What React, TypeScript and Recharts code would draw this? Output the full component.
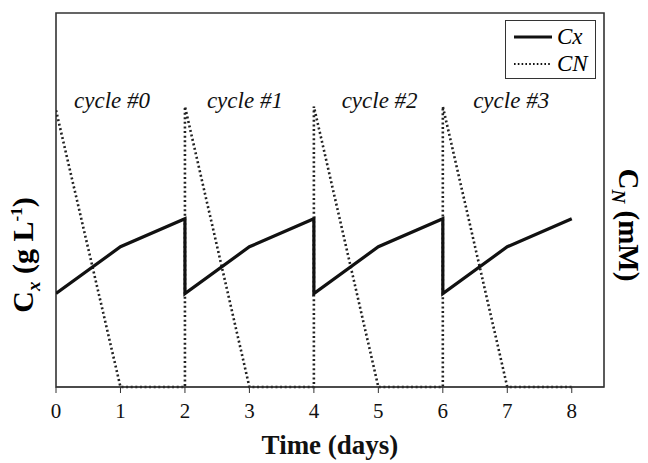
import {
  ComposedChart,
  Line,
  ReferenceArea,
  ReferenceDot,
  XAxis,
  YAxis,
} from "recharts";

// biomass Cx (arbitrary units on a 0-10 scale, axis has no ticks)
const cxTime = [0, 1, 2, 2, 3, 4, 4, 5, 6, 6, 7, 8];
const cxValues = [2.5, 3.75, 4.5, 2.5, 3.75, 4.5, 2.5, 3.75, 4.5, 2.5, 3.75, 4.5];

// nitrogen CN, refilled at the start of every cycle
const cnTime = [0, 1, 2, 2, 3, 4, 4, 5, 6, 6, 7, 8];
const cnValues = [7.4, 0, 0, 7.5, 0, 0, 7.5, 0, 0, 7.5, 0, 0];

const dayTicks = [0, 1, 2, 3, 4, 5, 6, 7, 8];
const cycleNames = ["cycle #0", "cycle #1", "cycle #2", "cycle #3"];
const cycleCenters = [0.87, 2.93, 5.02, 7.06];

const cxData = cxTime.map((t, i) => ({ t, cx: cxValues[i] }));
const cnData = cnTime.map((t, i) => ({ t, cn: cnValues[i] }));

const serif = "'Liberation Serif', 'Times New Roman', serif";

function LegendBox() {
  const row = (dash: boolean, name: string) => (
    <div style={{ display: "flex", alignItems: "center", height: 27 }}>
      <svg width={40} height={10}>
        <line
          x1={0}
          y1={5}
          x2={38}
          y2={5}
          stroke="#111"
          strokeWidth={dash ? 1.8 : 3.2}
          strokeDasharray={dash ? "1.6 2.2" : undefined}
        />
      </svg>
      <span style={{ fontStyle: "italic", fontSize: 23, marginLeft: 3 }}>{name}</span>
    </div>
  );
  return (
    <div
      style={{
        position: "absolute",
        left: 505,
        top: 20,
        boxSizing: "border-box",
        border: "1.3px solid #333",
        width: 91,
        height: 59,
        padding: "2px 0 0 8px",
        fontFamily: serif,
        background: "#fff",
        lineHeight: 1,
      }}
    >
      {row(false, "Cx")}
      {row(true, "CN")}
    </div>
  );
}

export default function App() {
  return (
    <div style={{ position: "absolute", left: 0, top: 0, width: 648, height: 463, background: "#fff" }}>
      <ComposedChart
        width={648}
        height={463}
        margin={{ top: 13, right: 44, bottom: 46, left: 56 }}
      >
        <XAxis
          dataKey="t"
          type="number"
          domain={[0, 8.5]}
          ticks={dayTicks}
          allowDataOverflow
          height={30}
          tickSize={6}
          tickMargin={10}
          stroke="#333"
          tick={{ fill: "#111", fontFamily: serif, fontSize: 21 }}
          label={{
            value: "Time (days)",
            position: "bottom",
            offset: 18,
            style: { fill: "#111", fontFamily: serif, fontSize: 27, fontWeight: 700 },
          }}
        />
        <YAxis yAxisId="cx" domain={[0, 10]} hide />
        <YAxis yAxisId="cn" orientation="right" domain={[0, 10]} hide />
        <ReferenceArea
          yAxisId="cx"
          x1={0}
          x2={8.5}
          y1={0}
          y2={10}
          fill="none"
          stroke="#333"
          strokeWidth={1.6}
        />
        <Line
          yAxisId="cn"
          data={cnData}
          dataKey="cn"
          name="CN"
          type="linear"
          stroke="#222"
          strokeWidth={2.6}
          strokeDasharray="2 2.6"
          dot={false}
          isAnimationActive={false}
        />
        <Line
          yAxisId="cx"
          data={cxData}
          dataKey="cx"
          name="Cx"
          type="linear"
          stroke="#111"
          strokeWidth={3.2}
          dot={false}
          isAnimationActive={false}
        />
        {cycleNames.map((name, i) => (
          <ReferenceDot
            key={name}
            yAxisId="cx"
            x={cycleCenters[i]}
            y={7.67}
            r={0}
            fill="none"
            stroke="none"
            label={{
              value: name,
              position: "center",
              style: { fill: "#111", fontFamily: serif, fontSize: 23, fontStyle: "italic" },
            }}
          />
        ))}
      </ComposedChart>
      <LegendBox />
      <div
        style={{
          position: "absolute",
          left: 25,
          top: 255,
          transform: "translate(-50%, -50%) rotate(-90deg)",
          whiteSpace: "nowrap",
          fontFamily: serif,
          fontWeight: 700,
          fontSize: 30,
        }}
      >
        C<sub style={{ fontSize: 19, fontStyle: "italic" }}>x</sub> (g L<sup style={{ fontSize: 17 }}>-1</sup>)
      </div>
      <div
        style={{
          position: "absolute",
          left: 626,
          top: 225,
          transform: "translate(-50%, -50%) rotate(90deg)",
          whiteSpace: "nowrap",
          fontFamily: serif,
          fontWeight: 700,
          fontSize: 29,
        }}
      >
        C<sub style={{ fontSize: 19, fontStyle: "italic" }}>N</sub> (mM)
      </div>
    </div>
  );
}
